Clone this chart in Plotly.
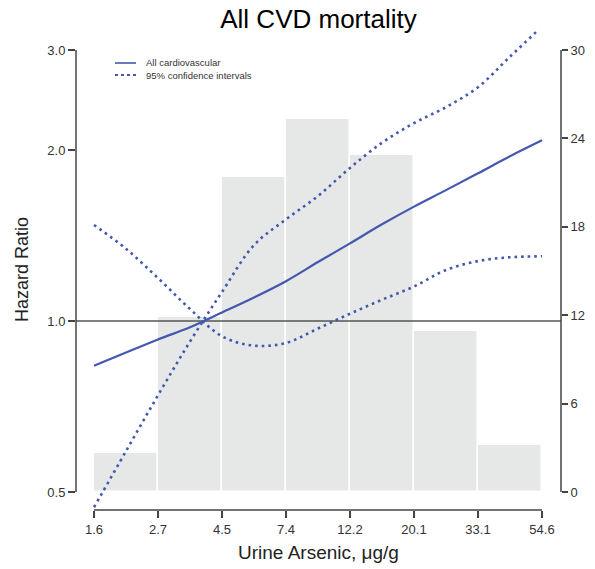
import numpy as np
import plotly.graph_objects as go

# ---- data ----
# x grid in ln(urine arsenic, ug/g)
ln_arsenic = [0.5, 0.75, 1.0, 1.25, 1.5, 1.75, 2.0, 2.25, 2.5, 2.75, 3.0, 3.25, 3.5, 3.75, 4.0]
hr_all_cvd = [0.834, 0.88, 0.928, 0.975, 1.035, 1.10, 1.175, 1.27, 1.37, 1.48, 1.59, 1.70, 1.82, 1.95, 2.08]
ci_a = [1.476, 1.34, 1.19, 1.05, 0.94, 0.905, 0.915, 0.97, 1.03, 1.09, 1.15, 1.23, 1.275, 1.295, 1.30]
ci_b = [0.47, 0.59, 0.74, 0.92, 1.125, 1.36, 1.51, 1.66, 1.86, 2.06, 2.23, 2.38, 2.58, 2.92, 3.30]

# histogram of urine arsenic (percent), bins of 0.5 in ln scale
hist_ln_centers = [0.75, 1.25, 1.75, 2.25, 2.75, 3.25, 3.75]
hist_percent = [2.65, 11.9, 21.4, 25.3, 22.9, 10.9, 3.2]

x_tickvals = [0.5, 1.0, 1.5, 2.0, 2.5, 3.0, 3.5, 4.0]
x_ticktext = ["1.6", "2.7", "4.5", "7.4", "12.2", "20.1", "33.1", "54.6"]
hr_tickvals = [0.5, 1.0, 2.0, 3.0]
hr_ticktext = ["0.5", "1.0", "2.0", "3.0"]
pct_tickvals = [0, 6, 12, 18, 24, 30]

legend_labels = ["All cardiovascular", "95% confidence intervals"]

# ---- styling ----
BLUE = "#4358AE"
FONT = "Liberation Sans, Arial, sans-serif"
W, H = 595, 569
ML, MR, MT, MB = 76, 34, 30, 59
PW, PH = W - ML - MR, H - MT - MB
x_range = [0.3594, 4.1484]
hr_range = [-0.33273, 0.51234]   # log10
pct_range = [-1.2217, 31.357]

def px_x(p):
    return (p - ML) / PW

def px_y(p):
    return (H - MB - p) / PH

fig = go.Figure()

# histogram bars (base axis y, right side)
fig.add_trace(go.Bar(
    x=hist_ln_centers, y=hist_percent, width=0.5,
    marker=dict(color="#E6E7E7", line=dict(color="white", width=1.5)),
    yaxis="y", showlegend=False, hoverinfo="skip"))

# reference line HR = 1
fig.add_trace(go.Scatter(
    x=x_range, y=[1, 1], mode="lines", yaxis="y2",
    line=dict(color="#555555", width=1.5), showlegend=False, hoverinfo="skip"))

dot_line = dict(color=BLUE, width=2.6, dash="2.6px,4px", shape="spline")
fig.add_trace(go.Scatter(
    x=ln_arsenic, y=ci_a, mode="lines", yaxis="y2", name=legend_labels[1],
    showlegend=False, line=dot_line))
fig.add_trace(go.Scatter(
    x=ln_arsenic, y=ci_b, mode="lines", yaxis="y2", name=legend_labels[1],
    showlegend=False, line=dot_line))
fig.add_trace(go.Scatter(
    x=ln_arsenic, y=hr_all_cvd, mode="lines", yaxis="y2", name=legend_labels[0],
    showlegend=False, line=dict(color=BLUE, width=2.2, shape="spline")))

tickfont = dict(family=FONT, size=13, color="#333333")

fig.update_layout(
    width=W, height=H, autosize=False,
    margin=dict(l=ML, r=MR, t=MT, b=MB),
    plot_bgcolor="white", paper_bgcolor="white",
    showlegend=False,
    title=dict(text="All CVD mortality", x=0.5, xref="paper", xanchor="center",
               y=1 - 19 / H, yref="container", yanchor="middle",
               font=dict(family=FONT, size=26, color="black")),
    xaxis=dict(range=x_range, tickvals=x_tickvals, ticktext=x_ticktext,
               ticks="outside", ticklen=7, tickwidth=1.5, tickcolor="#444444",
               showline=False, showgrid=False, zeroline=False, tickfont=tickfont,
               automargin=False),
    yaxis=dict(range=pct_range, side="right", tickvals=pct_tickvals,
               ticks="outside", ticklen=6, tickwidth=1.5, tickcolor="#444444",
               showline=False, showgrid=False, zeroline=False, tickfont=tickfont,
               automargin=False),
    yaxis2=dict(type="log", range=hr_range, side="left", overlaying="y",
                tickvals=hr_tickvals, ticktext=hr_ticktext,
                ticks="outside", ticklen=7, tickwidth=1.5, tickcolor="#444444",
                showline=False, showgrid=False, zeroline=False, tickfont=tickfont,
                automargin=False),
    bargap=0,
)

# axis titles
fig.add_annotation(text="Urine Arsenic, μg/g", xref="paper", yref="paper",
                   x=px_x(318), y=px_y(552), xanchor="center", yanchor="middle",
                   showarrow=False, font=dict(family=FONT, size=19, color="#222222"))
fig.add_annotation(text="Hazard Ratio", xref="paper", yref="paper",
                   x=px_x(22), y=px_y(270), xanchor="center", yanchor="middle",
                   textangle=-90, showarrow=False,
                   font=dict(family=FONT, size=18, color="#222222"))

# legend (drawn manually to match spacing)
leg_rows = [63, 75]
leg_dash = ["solid", "3px,3px"]
leg_width = [1.6, 1.8]
for label, row, dash, lw in zip(legend_labels, leg_rows, leg_dash, leg_width):
    fig.add_shape(type="line", xref="paper", yref="paper",
                  x0=px_x(115), x1=px_x(136), y0=px_y(row), y1=px_y(row),
                  line=dict(color=BLUE, width=lw, dash=dash))
    fig.add_annotation(text=label, xref="paper", yref="paper",
                       x=px_x(144), y=px_y(row), xanchor="left", yanchor="middle",
                       showarrow=False, font=dict(family=FONT, size=9.5, color="#333333"))

# R-style axis lines spanning only the tick range
axis_line = dict(color="#444444", width=1.5)
fig.add_shape(type="line", xref="paper", yref="y2", x0=0, x1=0,
              y0=hr_tickvals[0], y1=hr_tickvals[-1], line=axis_line, layer="above")
fig.add_shape(type="line", xref="paper", yref="y", x0=1, x1=1,
              y0=pct_tickvals[0], y1=pct_tickvals[-1], line=axis_line, layer="above")
fig.add_shape(type="line", xref="x", yref="paper", x0=x_tickvals[0], x1=x_tickvals[-1],
              y0=0, y1=0, line=axis_line, layer="above")

fig.write_html("out.html", config={"displayModeBar": False},
               post_script="document.body.style.margin='0';")
